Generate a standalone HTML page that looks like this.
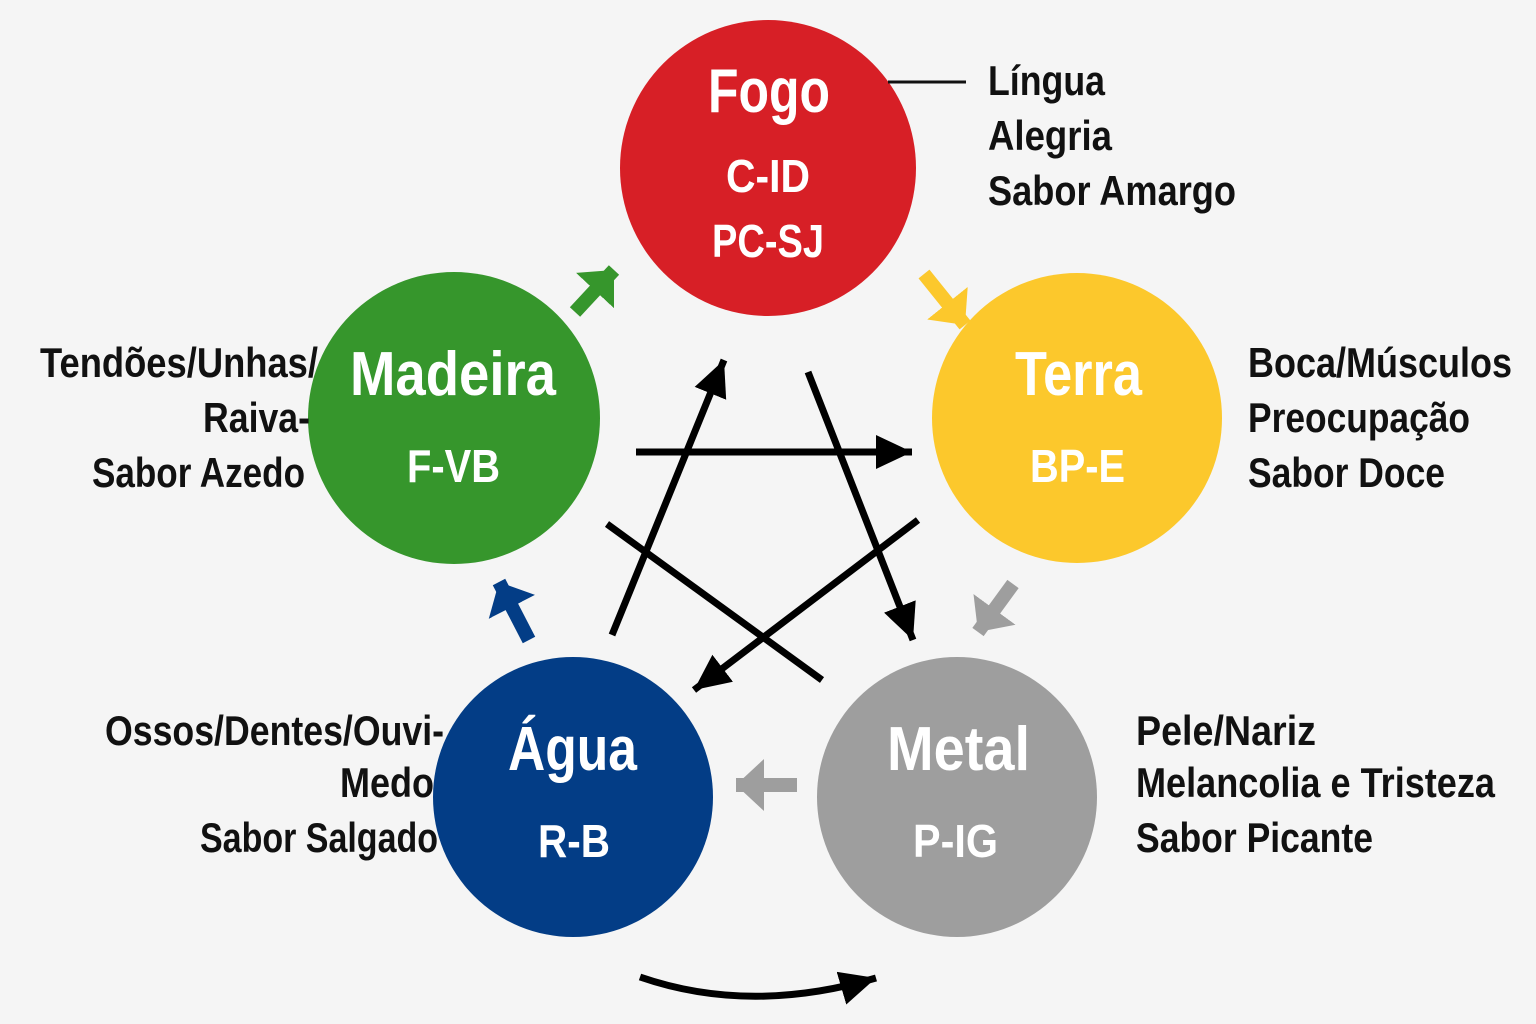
<!DOCTYPE html>
<html><head><meta charset="utf-8"><style>
html,body{margin:0;padding:0;background:#f5f5f5;}
svg{display:block;}
text{font-family:"Liberation Sans Narrow","Liberation Sans",sans-serif;font-weight:bold;}
.l{font-size:42px;fill:#111;}
.t{fill:#fff;}
</style></head><body>
<svg width="1536" height="1024" viewBox="0 0 1536 1024" xmlns="http://www.w3.org/2000/svg">
<defs>
<marker id="mb" markerUnits="userSpaceOnUse" markerWidth="44" markerHeight="44" refX="36" refY="17" orient="auto"><path d="M0,0 L36,17 L0,34 z" fill="#000"/></marker>
<marker id="mg" markerUnits="userSpaceOnUse" markerWidth="60" markerHeight="60" refX="28" refY="26" orient="auto"><path d="M0,0 L28,26 L0,52 z" fill="#36962c"/></marker>
<marker id="my" markerUnits="userSpaceOnUse" markerWidth="60" markerHeight="60" refX="28" refY="26" orient="auto"><path d="M0,0 L28,26 L0,52 z" fill="#fcc82c"/></marker>
<marker id="mr" markerUnits="userSpaceOnUse" markerWidth="60" markerHeight="60" refX="28" refY="26" orient="auto"><path d="M0,0 L28,26 L0,52 z" fill="#9e9e9e"/></marker>
<marker id="mu" markerUnits="userSpaceOnUse" markerWidth="60" markerHeight="60" refX="28" refY="26" orient="auto"><path d="M0,0 L28,26 L0,52 z" fill="#033d86"/></marker>
</defs>
<rect width="1536" height="1024" fill="#f5f5f5"/>

<circle cx="768" cy="168" r="148" fill="#d71f26"/>
<circle cx="1077" cy="418" r="145" fill="#fcc82c"/>
<circle cx="454" cy="418" r="146" fill="#36962c"/>
<circle cx="573" cy="797" r="140" fill="#033d86"/>
<circle cx="957" cy="797" r="140" fill="#9e9e9e"/>

<line x1="888" y1="82" x2="966" y2="82" stroke="#111" stroke-width="3"/>

<g stroke="#000" stroke-width="7" fill="none">
<line x1="612" y1="635" x2="724" y2="360" marker-end="url(#mb)"/>
<line x1="636" y1="452" x2="912" y2="452" marker-end="url(#mb)"/>
<line x1="808" y1="372" x2="913" y2="640" marker-end="url(#mb)"/>
<line x1="918" y1="520" x2="694" y2="690" marker-end="url(#mb)"/>
<line x1="607" y1="524" x2="822" y2="680"/>
<path d="M640,977 Q750,1015 876,978" marker-end="url(#mb)"/>
</g>
<g stroke-width="14" fill="none">
<line x1="575" y1="312" x2="614" y2="270" stroke="#36962c" marker-end="url(#mg)"/>
<line x1="924" y1="274" x2="965" y2="325" stroke="#fcc82c" marker-end="url(#my)"/>
<line x1="1013" y1="584" x2="978" y2="632" stroke="#9e9e9e" marker-end="url(#mr)"/>
<line x1="797" y1="785" x2="736" y2="785" stroke="#9e9e9e" marker-end="url(#mr)"/>
<line x1="529" y1="640" x2="499" y2="582" stroke="#033d86" marker-end="url(#mu)"/>
</g>

<text class="t" x="708" y="112" font-size="62" textLength="122" lengthAdjust="spacingAndGlyphs">Fogo</text>
<text class="t" x="726" y="192" font-size="46" textLength="84" lengthAdjust="spacingAndGlyphs">C-ID</text>
<text class="t" x="712" y="257" font-size="46" textLength="112" lengthAdjust="spacingAndGlyphs">PC-SJ</text>
<text class="t" x="350" y="395" font-size="62" textLength="206" lengthAdjust="spacingAndGlyphs">Madeira</text>
<text class="t" x="407" y="482" font-size="46" textLength="93" lengthAdjust="spacingAndGlyphs">F-VB</text>
<text class="t" x="1015" y="395" font-size="62" textLength="127" lengthAdjust="spacingAndGlyphs">Terra</text>
<text class="t" x="1030" y="482" font-size="46" textLength="95" lengthAdjust="spacingAndGlyphs">BP-E</text>
<text class="t" x="508" y="770" font-size="62" textLength="129" lengthAdjust="spacingAndGlyphs">Água</text>
<text class="t" x="538" y="857" font-size="46" textLength="72" lengthAdjust="spacingAndGlyphs">R-B</text>
<text class="t" x="887" y="770" font-size="62" textLength="143" lengthAdjust="spacingAndGlyphs">Metal</text>
<text class="t" x="913" y="857" font-size="46" textLength="85" lengthAdjust="spacingAndGlyphs">P-IG</text>

<text class="l" x="988" y="95" textLength="117" lengthAdjust="spacingAndGlyphs">Língua</text>
<text class="l" x="988" y="150" textLength="124" lengthAdjust="spacingAndGlyphs">Alegria</text>
<text class="l" x="988" y="205" textLength="248" lengthAdjust="spacingAndGlyphs">Sabor Amargo</text>

<text class="l" x="1248" y="377" textLength="264" lengthAdjust="spacingAndGlyphs">Boca/Músculos</text>
<text class="l" x="1248" y="432" textLength="222" lengthAdjust="spacingAndGlyphs">Preocupação</text>
<text class="l" x="1248" y="487" textLength="197" lengthAdjust="spacingAndGlyphs">Sabor Doce</text>

<text class="l" x="40" y="377" textLength="278" lengthAdjust="spacingAndGlyphs">Tendões/Unhas/</text>
<text class="l" x="203" y="432" textLength="107" lengthAdjust="spacingAndGlyphs">Raiva-</text>
<text class="l" x="92" y="487" textLength="213" lengthAdjust="spacingAndGlyphs">Sabor Azedo</text>

<text class="l" x="105" y="745" textLength="339" lengthAdjust="spacingAndGlyphs">Ossos/Dentes/Ouvi-</text>
<text class="l" x="340" y="797" textLength="94" lengthAdjust="spacingAndGlyphs">Medo</text>
<text class="l" x="200" y="852" textLength="238" lengthAdjust="spacingAndGlyphs">Sabor Salgado</text>

<text class="l" x="1136" y="745" textLength="180" lengthAdjust="spacingAndGlyphs">Pele/Nariz</text>
<text class="l" x="1136" y="797" textLength="359" lengthAdjust="spacingAndGlyphs">Melancolia e Tristeza</text>
<text class="l" x="1136" y="852" textLength="237" lengthAdjust="spacingAndGlyphs">Sabor Picante</text>
</svg>
</body></html>
